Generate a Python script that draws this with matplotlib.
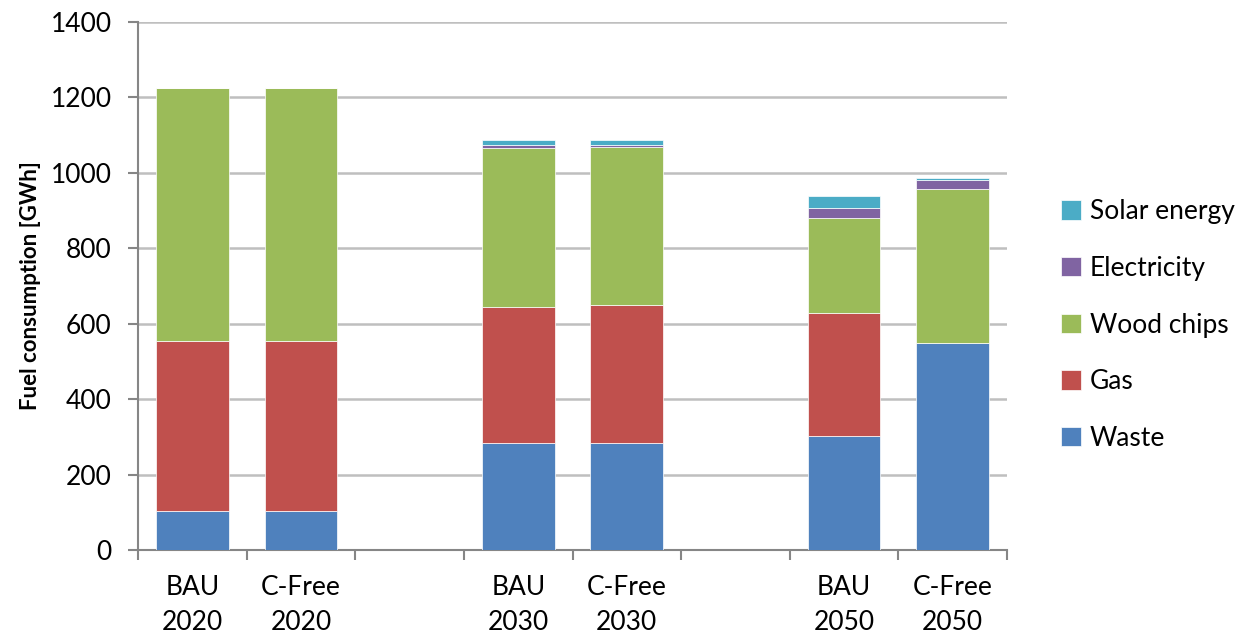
import numpy as np
import matplotlib
matplotlib.use("Agg")
import matplotlib.pyplot as plt

# scenario columns, blank slots separate the years
categories = ["BAU\n2020", "C-Free\n2020", "", "BAU\n2030", "C-Free\n2030", "",
              "BAU\n2050", "C-Free\n2050"]

# fuel consumption in GWh per scenario (nan = empty slot)
waste = [104, 104, np.nan, 283, 285, np.nan, 301, 548]
gas = [451, 451, np.nan, 362, 364, np.nan, 328, 0]
wood_chips = [671, 671, np.nan, 421, 420, np.nan, 251, 409]
electricity = [0, 0, np.nan, 7, 4, np.nan, 28, 25]
solar = [0, 0, np.nan, 13, 13, np.nan, 31, 4]

series = [
    ("Waste", waste, "#4F81BD"),
    ("Gas", gas, "#C0504D"),
    ("Wood chips", wood_chips, "#9BBB59"),
    ("Electricity", electricity, "#8064A2"),
    ("Solar energy", solar, "#4BACC6"),
]

plt.rcParams["font.family"] = ["Lato", "DejaVu Sans"]
FS = 19

fig = plt.figure(figsize=(12.48, 6.37), dpi=100)
ax = fig.add_axes([138 / 1248, 1 - 550 / 637, (1007 - 138) / 1248, (550 - 22) / 637])

x = np.arange(len(categories))
bottom = np.zeros(len(categories))
handles = []
for name, vals, color in series:
    vals = np.array(vals, dtype=float)
    b = ax.bar(x, vals, width=0.67, bottom=bottom, color=color,
               edgecolor="#ffffff", linewidth=0.5, label=name, zorder=3)
    handles.append(b)
    bottom = bottom + np.nan_to_num(vals)

ax.set_xlim(-0.5, len(categories) - 0.5)
ax.set_ylim(0, 1400)
ax.set_yticks(np.arange(0, 1401, 200))
ax.yaxis.grid(True, color="#bfbfbf", linewidth=1.8, zorder=0)
ax.set_axisbelow(True)

# category boundaries get the tick marks, labels sit in the middle
ax.set_xticks(np.arange(len(categories) + 1) - 0.5)
ax.set_xticklabels([])
ax.set_xticks(x, minor=True)
ax.set_xticklabels(categories, minor=True, fontsize=FS, linespacing=1.5)
ax.tick_params(axis="x", which="major", length=7, width=1.5, color="#868686",
               direction="out")
ax.tick_params(axis="x", which="minor", length=0, pad=18)
ax.tick_params(axis="y", length=7, width=1.5, color="#868686", labelsize=FS, pad=12)

for side in ["top", "right"]:
    ax.spines[side].set_visible(False)
for side in ["left", "bottom"]:
    ax.spines[side].set_color("#868686")
    ax.spines[side].set_linewidth(1.5)

ax.set_ylabel("Fuel consumption [GWh]", fontsize=16, fontweight="bold", labelpad=7)

leg = fig.legend(handles[::-1], [s[0] for s in series][::-1],
                 loc="center left", bbox_to_anchor=(1061 / 1248, 1 - 325 / 637),
                 bbox_transform=fig.transFigure, frameon=False, fontsize=FS,
                 handlelength=0.75, handleheight=0.75, handletextpad=0.35,
                 labelspacing=1.2, borderpad=0, borderaxespad=0)

fig.savefig("out.png", dpi=100)
